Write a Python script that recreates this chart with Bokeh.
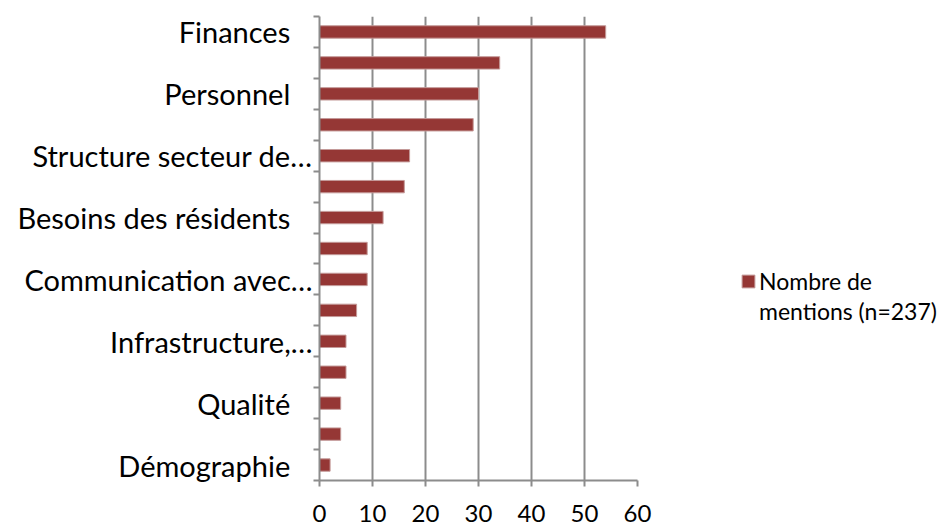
from bokeh.plotting import figure
from bokeh.models import Range1d, FixedTicker, Legend, LegendItem
from bokeh.embed import file_html
from bokeh.resources import INLINE

NB = "\u00a0\u00a0\u00a0"
categories = ["Finances" + NB, "", "Personnel" + NB, "", "Structure secteur de…", "",
              "Besoins des résidents" + NB, "", "Communication avec…", "",
              "Infrastructure,…", "", "Qualité" + NB, "", "Démographie" + NB]
values = [54, 34, 30, 29, 17, 16, 12, 9, 9, 7, 5, 5, 4, 4, 2]
series_name_lines = ["Nombre de", "mentions (n=237)"]
x_ticks = [0, 10, 20, 30, 40, 50, 60]

n = len(categories)
ypos = [n - i - 0.5 for i in range(n)]

BAR = "#953735"
GRID = "#8c8c8c"
FONT = "Lato"

p = figure(frame_width=318, frame_height=464, output_backend="svg", toolbar_location=None,
           x_range=Range1d(0, 60), y_range=Range1d(0, n),
           min_border_left=319, min_border_right=303, min_border_top=16,
           min_border_bottom=47)
p.outline_line_color = None
p.background_fill_color = "white"

r = p.hbar(y=ypos, right=values, left=0, height=0.4, fill_color=BAR,
           line_color="#c49a99", line_width=1)
r_blank = p.hbar(y=[], right=[], left=0, height=0.4, fill_alpha=0, line_alpha=0)

# x axis
p.xaxis.ticker = FixedTicker(ticks=x_ticks, minor_ticks=[])
p.xaxis.axis_line_color = GRID
p.xaxis.axis_line_width = 2
p.xaxis.major_tick_line_color = GRID
p.xaxis.major_tick_line_width = 2
p.xaxis.major_tick_out = 6
p.xaxis.major_tick_in = 0
p.xaxis.major_label_text_font = FONT
p.xaxis.major_label_text_font_size = "24px"
p.xaxis.major_label_text_color = "black"
p.xaxis.major_label_standoff = 18

# y axis
label_pos = [ypos[i] for i in range(n) if categories[i]]
overrides = {ypos[i]: categories[i] for i in range(n) if categories[i]}
p.yaxis.ticker = FixedTicker(ticks=label_pos, minor_ticks=list(range(n + 1)))
p.yaxis.major_label_overrides = overrides
p.yaxis.axis_line_color = GRID
p.yaxis.axis_line_width = 2
p.yaxis.major_tick_out = 0
p.yaxis.major_tick_in = 0
p.yaxis.minor_tick_out = 6
p.yaxis.minor_tick_in = 0
p.yaxis.minor_tick_line_color = GRID
p.yaxis.minor_tick_line_width = 2
p.yaxis.major_label_text_font = FONT
p.yaxis.major_label_text_font_size = "29px"
p.yaxis.major_label_text_color = "black"
p.yaxis.major_label_standoff = 1

p.xgrid.ticker = FixedTicker(ticks=x_ticks)
p.xgrid.grid_line_color = GRID
p.xgrid.grid_line_width = 2
p.ygrid.grid_line_color = None

legend = Legend(items=[LegendItem(label=series_name_lines[0], renderers=[r]),
                       LegendItem(label=series_name_lines[1], renderers=[r_blank])],
                location=(103, 155), orientation="vertical")
legend.border_line_color = None
legend.background_fill_alpha = 0
legend.padding = 0
legend.margin = 0
legend.spacing = 2
legend.glyph_width = 16
legend.glyph_height = 16
legend.label_standoff = 3
legend.label_height = 28
legend.label_text_font = FONT
legend.label_text_font_size = "23px"
legend.label_text_color = "black"
p.add_layout(legend, "right")

open("out.html", "w").write(file_html(p, INLINE))
